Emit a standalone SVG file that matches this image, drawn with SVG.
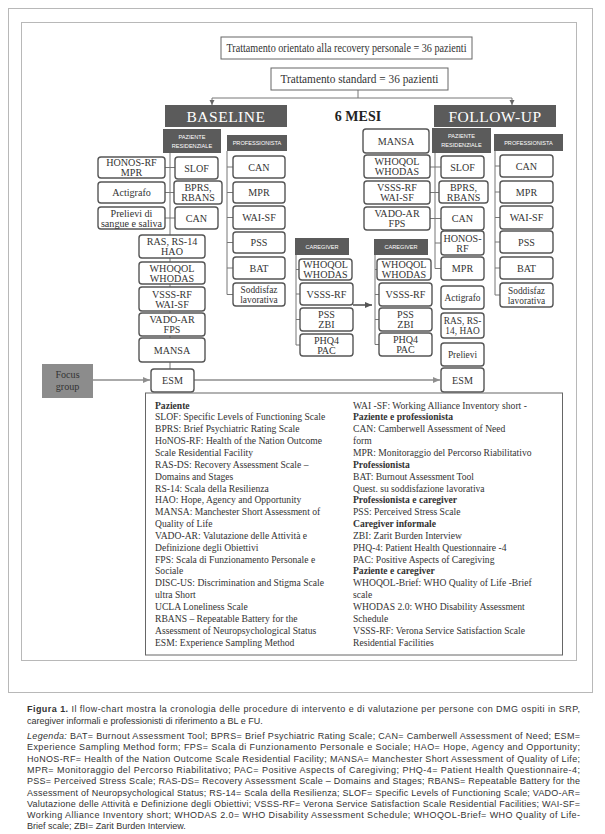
<svg xmlns="http://www.w3.org/2000/svg" width="605" height="834" viewBox="0 0 605 834">
<defs>
<marker id="ah" markerWidth="8" markerHeight="8" refX="7" refY="4" orient="auto" markerUnits="userSpaceOnUse"><path d="M0,1 L7,4 L0,7 z" fill="#8e8e8e"/></marker>
<marker id="ahd" markerWidth="8" markerHeight="8" refX="7" refY="4" orient="auto" markerUnits="userSpaceOnUse"><path d="M0,1 L7,4 L0,7 z" fill="#555"/></marker>
<marker id="ahs" markerWidth="6" markerHeight="6" refX="5" refY="3" orient="auto" markerUnits="userSpaceOnUse"><path d="M0,0.5 L5,3 L0,5.5 z" fill="#666"/></marker>
</defs>
<style>
.frame{fill:none;stroke:#b8b8b8;stroke-width:1}
.box{fill:#fff;stroke:#555;stroke-width:1.4}
.hdr{fill:#5b5b5b}
.bt{font-family:"Liberation Serif",serif;font-size:10.1px;fill:#333;text-anchor:middle}
.st{font-size:9.4px}
.ht{font-family:"Liberation Sans",sans-serif;font-size:5.6px;fill:#fff;text-anchor:middle}
.big{font-family:"Liberation Serif",serif;font-size:15.5px;fill:#fff;text-anchor:middle;letter-spacing:0.5px}
.ln{stroke:#777;stroke-width:1;fill:none}
.arr{stroke:#8e8e8e;stroke-width:1.6;fill:none}
.lg{font-family:"Liberation Serif",serif;font-size:9.6px;fill:#333}
.b{font-weight:bold}
.i{font-style:italic}
.cap{font-family:"Liberation Sans",sans-serif;font-size:9px;fill:#333}
.top{font-family:"Liberation Serif",serif;font-size:11.5px;fill:#333;text-anchor:middle}
</style>
<rect width="605" height="834" fill="#fff"/>
<rect class="frame" x="8.5" y="8.5" width="584" height="684"/>
<rect class="frame" x="21.5" y="22.5" width="555" height="638"/>

<g id="connectors">
<line class="ln" x1="358" y1="90" x2="358" y2="98"/>
<line class="ln" x1="212" y1="98" x2="512" y2="98"/>
<line class="ln" x1="212" y1="98" x2="212" y2="105" marker-end="url(#ahs)"/>
<line class="ln" x1="512" y1="98" x2="512" y2="105" marker-end="url(#ahs)"/>
<line class="ln" x1="170" y1="153" x2="170" y2="369"/>
<line class="ln" x1="165" y1="167.5" x2="175" y2="167.5"/>
<line class="ln" x1="165" y1="192.5" x2="175" y2="192.5"/>
<line class="ln" x1="165" y1="218" x2="175" y2="218"/>
<line class="ln" x1="227" y1="151" x2="227" y2="294.5"/>
<line class="ln" x1="227" y1="167" x2="233" y2="167"/>
<line class="ln" x1="227" y1="192.5" x2="233" y2="192.5"/>
<line class="ln" x1="227" y1="217.5" x2="233" y2="217.5"/>
<line class="ln" x1="227" y1="242.5" x2="233" y2="242.5"/>
<line class="ln" x1="227" y1="268" x2="233" y2="268"/>
<line class="ln" x1="227" y1="294.5" x2="233" y2="294.5"/>
<line class="ln" x1="296" y1="255" x2="296" y2="345"/>
<line class="ln" x1="296" y1="269.5" x2="299" y2="269.5"/>
<line class="ln" x1="296" y1="294" x2="300" y2="294"/>
<line class="ln" x1="296" y1="319.5" x2="300" y2="319.5"/>
<line class="ln" x1="296" y1="345" x2="300" y2="345"/>
<line class="ln" x1="375" y1="255" x2="375" y2="344.5"/>
<line class="ln" x1="375" y1="269.5" x2="377" y2="269.5"/>
<line class="ln" x1="375" y1="294.5" x2="379" y2="294.5"/>
<line class="ln" x1="375" y1="319.5" x2="379" y2="319.5"/>
<line class="ln" x1="375" y1="344.5" x2="379" y2="344.5"/>
<line class="ln" x1="435" y1="153" x2="435" y2="268.5"/>
<line class="ln" x1="430" y1="167" x2="441" y2="167"/>
<line class="ln" x1="430" y1="192.5" x2="439" y2="192.5"/>
<line class="ln" x1="430" y1="218.5" x2="441" y2="218.5"/>
<line class="ln" x1="435" y1="243" x2="441" y2="243"/>
<line class="ln" x1="435" y1="268.5" x2="441" y2="268.5"/>
<line class="ln" x1="495" y1="151" x2="495" y2="295"/>
<line class="ln" x1="495" y1="166" x2="500" y2="166"/>
<line class="ln" x1="495" y1="192" x2="500" y2="192"/>
<line class="ln" x1="495" y1="217.5" x2="500" y2="217.5"/>
<line class="ln" x1="495" y1="242" x2="500" y2="242"/>
<line class="ln" x1="495" y1="268" x2="500" y2="268"/>
<line class="ln" x1="495" y1="295" x2="500" y2="295"/>
<line x1="353" y1="305" x2="372" y2="305" stroke="#555" stroke-width="1.6" marker-end="url(#ahd)"/>
<line class="arr" x1="194" y1="380" x2="440" y2="380" marker-end="url(#ah)"/>
<line class="arr" x1="93" y1="380" x2="150" y2="380" marker-end="url(#ah)"/>
</g>

<g id="top-recovery"><rect x="221" y="37" width="251" height="22" fill="#fff" stroke="#666" stroke-width="1"/><text class="top" x="346.5" y="52" textLength="240" lengthAdjust="spacingAndGlyphs">Trattamento orientato alla recovery personale = 36 pazienti</text></g>
<g id="top-standard"><rect x="271" y="68" width="177" height="22" fill="#fff" stroke="#666" stroke-width="1"/><text class="top" x="359.5" y="83" textLength="158" lengthAdjust="spacingAndGlyphs">Trattamento standard = 36 pazienti</text></g>

<g id="baseline"><rect class="hdr" x="165" y="105" width="122" height="22"/><text class="big" x="226" y="122">BASELINE</text></g>
<g id="sei-mesi"><text x="358" y="121" font-family="Liberation Serif, serif" font-size="14" font-weight="bold" fill="#222" text-anchor="middle">6 MESI</text></g>
<g id="followup"><rect class="hdr" x="434" y="105" width="122" height="22"/><text class="big" x="495" y="122">FOLLOW-UP</text></g>

<g id="bl-paziente-hdr"><rect class="hdr" x="163" y="129" width="58" height="24"/><text class="ht" x="192" y="138.5">PAZIENTE</text><text class="ht" x="192" y="147.5">RESIDENZIALE</text></g>
<g id="bl-prof-hdr"><rect class="hdr" x="227" y="135" width="60" height="16"/><text class="ht" x="257" y="145">PROFESSIONISTA</text></g>
<g id="fu-paziente-hdr"><rect class="hdr" x="432" y="128" width="59" height="25"/><text class="ht" x="461.5" y="138">PAZIENTE</text><text class="ht" x="461.5" y="147">RESIDENZIALE</text></g>
<g id="fu-prof-hdr"><rect class="hdr" x="494" y="134" width="69" height="17"/><text class="ht" x="528.5" y="144.5">PROFESSIONISTA</text></g>
<g id="bl-care-hdr"><rect class="hdr" x="295" y="238" width="54" height="17"/><text class="ht" x="322" y="248.5">CAREGIVER</text></g>
<g id="fu-care-hdr"><rect class="hdr" x="374" y="239" width="54" height="16"/><text class="ht" x="401" y="249">CAREGIVER</text></g>

<g id="bl-honos"><rect class="box" x="98" y="157" width="67" height="21" rx="3"/><text class="bt" x="131.5" y="166">HONOS-RF</text><text class="bt" x="131.5" y="176">MPR</text></g>
<g id="bl-actigrafo"><rect class="box" x="98" y="182" width="67" height="21" rx="3"/><text class="bt" x="131.5" y="196">Actigrafo</text></g>
<g id="bl-prelievi"><rect class="box" x="98" y="207" width="67" height="22" rx="3"/><text class="bt" x="131.5" y="216.5">Prelievi di</text><text class="bt" x="131.5" y="226.5">sangue e saliva</text></g>
<g id="bl-slof"><rect class="box" x="175" y="157" width="43" height="22" rx="3"/><text class="bt" x="196.5" y="171.5">SLOF</text></g>
<g id="bl-bprs"><rect class="box" x="174" y="181" width="48" height="23" rx="3"/><text class="bt" x="198" y="191">BPRS,</text><text class="bt" x="198" y="201">RBANS</text></g>
<g id="bl-can"><rect class="box" x="175" y="207" width="43" height="22" rx="3"/><text class="bt" x="196.5" y="221.5">CAN</text></g>
<g id="bl-ras"><rect class="box" x="139" y="235" width="66" height="23" rx="3"/><text class="bt" x="172" y="245">RAS, RS-14</text><text class="bt" x="172" y="255">HAO</text></g>
<g id="bl-whoqol"><rect class="box" x="139" y="262" width="66" height="22" rx="3"/><text class="bt" x="172" y="271.5">WHOQOL</text><text class="bt" x="172" y="281.5">WHODAS</text></g>
<g id="bl-vsss"><rect class="box" x="139" y="287" width="66" height="24" rx="3"/><text class="bt" x="172" y="297.5">VSSS-RF</text><text class="bt" x="172" y="307.5">WAI-SF</text></g>
<g id="bl-vado"><rect class="box" x="139" y="313" width="66" height="23" rx="3"/><text class="bt" x="172" y="323">VADO-AR</text><text class="bt" x="172" y="333">FPS</text></g>
<g id="bl-mansa"><rect class="box" x="139" y="338" width="66" height="24" rx="3"/><text class="bt" x="172" y="353.5">MANSA</text></g>
<g id="bl-esm"><rect class="box" x="151" y="369" width="43" height="23" rx="3"/><text class="bt" x="172.5" y="384">ESM</text></g>

<g id="bl-p-can"><rect class="box" x="233" y="156" width="52" height="22" rx="3"/><text class="bt" x="259" y="170.5">CAN</text></g>
<g id="bl-p-mpr"><rect class="box" x="233" y="182" width="52" height="21" rx="3"/><text class="bt" x="259" y="196">MPR</text></g>
<g id="bl-p-wai"><rect class="box" x="233" y="206" width="52" height="23" rx="3"/><text class="bt" x="259" y="221">WAI-SF</text></g>
<g id="bl-p-pss"><rect class="box" x="233" y="232" width="52" height="21" rx="3"/><text class="bt" x="259" y="246">PSS</text></g>
<g id="bl-p-bat"><rect class="box" x="233" y="257" width="52" height="22" rx="3"/><text class="bt" x="259" y="271.5">BAT</text></g>
<g id="bl-p-sodd"><rect class="box" x="233" y="283" width="52" height="23" rx="3"/><text class="bt st" x="259" y="293">Soddisfaz</text><text class="bt st" x="259" y="303">lavorativa</text></g>

<g id="bl-c-whoqol"><rect class="box" x="299" y="259" width="53" height="21" rx="3"/><text class="bt" x="325.5" y="268">WHOQOL</text><text class="bt" x="325.5" y="278">WHODAS</text></g>
<g id="bl-c-vsss"><rect class="box" x="300" y="283" width="53" height="22" rx="3"/><text class="bt" x="326.5" y="297.5">VSSS-RF</text></g>
<g id="bl-c-pss"><rect class="box" x="300" y="308" width="53" height="23" rx="3"/><text class="bt" x="326.5" y="318">PSS</text><text class="bt" x="326.5" y="328">ZBI</text></g>
<g id="bl-c-phq"><rect class="box" x="300" y="334" width="53" height="22" rx="3"/><text class="bt" x="326.5" y="343.5">PHQ4</text><text class="bt" x="326.5" y="353.5">PAC</text></g>

<g id="fu-c-whoqol"><rect class="box" x="377" y="259" width="54" height="21" rx="3"/><text class="bt" x="404" y="268">WHOQOL</text><text class="bt" x="404" y="278">WHODAS</text></g>
<g id="fu-c-vsss"><rect class="box" x="379" y="283" width="53" height="23" rx="3"/><text class="bt" x="405.5" y="298">VSSS-RF</text></g>
<g id="fu-c-pss"><rect class="box" x="379" y="308" width="53" height="23" rx="3"/><text class="bt" x="405.5" y="318">PSS</text><text class="bt" x="405.5" y="328">ZBI</text></g>
<g id="fu-c-phq"><rect class="box" x="379" y="333" width="53" height="23" rx="3"/><text class="bt" x="405.5" y="343">PHQ4</text><text class="bt" x="405.5" y="353">PAC</text></g>

<g id="fu-mansa"><rect class="box" x="363" y="129" width="66" height="24" rx="3"/><text class="bt" x="396" y="144.5">MANSA</text></g>
<g id="fu-whoqol"><rect class="box" x="364" y="155" width="66" height="23" rx="3"/><text class="bt" x="397" y="165">WHOQOL</text><text class="bt" x="397" y="175">WHODAS</text></g>
<g id="fu-vsss"><rect class="box" x="364" y="181" width="66" height="23" rx="3"/><text class="bt" x="397" y="191">VSSS-RF</text><text class="bt" x="397" y="201">WAI-SF</text></g>
<g id="fu-vado"><rect class="box" x="364" y="207" width="66" height="23" rx="3"/><text class="bt" x="397" y="217">VADO-AR</text><text class="bt" x="397" y="227">FPS</text></g>

<g id="fu-slof"><rect class="box" x="441" y="156" width="43" height="22" rx="3"/><text class="bt" x="462.5" y="170.5">SLOF</text></g>
<g id="fu-bprs"><rect class="box" x="439" y="181" width="49" height="22" rx="3"/><text class="bt" x="463.5" y="190.5">BPRS,</text><text class="bt" x="463.5" y="200.5">RBANS</text></g>
<g id="fu-can"><rect class="box" x="441" y="207" width="43" height="23" rx="3"/><text class="bt" x="462.5" y="222">CAN</text></g>
<g id="fu-honos"><rect class="box" x="441" y="231" width="43" height="24" rx="3"/><text class="bt" x="462.5" y="241.5">HONOS-</text><text class="bt" x="462.5" y="251.5">RF</text></g>
<g id="fu-mpr"><rect class="box" x="441" y="257" width="43" height="23" rx="3"/><text class="bt" x="462.5" y="272">MPR</text></g>
<g id="fu-actigrafo"><rect class="box" x="441" y="286" width="43" height="23" rx="3"/><text class="bt st" x="462.5" y="301">Actigrafo</text></g>
<g id="fu-ras"><rect class="box" x="441" y="313" width="43" height="25" rx="3"/><text class="bt st" x="462.5" y="324">RAS, RS-</text><text class="bt st" x="462.5" y="334">14, HAO</text></g>
<g id="fu-prelievi"><rect class="box" x="441" y="343" width="43" height="23" rx="3"/><text class="bt st" x="462.5" y="358">Prelievi</text></g>
<g id="fu-esm"><rect class="box" x="441" y="368" width="43" height="24" rx="3"/><text class="bt" x="462.5" y="383.5">ESM</text></g>

<g id="fu-p-can"><rect class="box" x="500" y="155" width="53" height="22" rx="3"/><text class="bt" x="526.5" y="169.5">CAN</text></g>
<g id="fu-p-mpr"><rect class="box" x="500" y="181" width="53" height="22" rx="3"/><text class="bt" x="526.5" y="195.5">MPR</text></g>
<g id="fu-p-wai"><rect class="box" x="500" y="206" width="53" height="23" rx="3"/><text class="bt" x="526.5" y="221">WAI-SF</text></g>
<g id="fu-p-pss"><rect class="box" x="500" y="231" width="53" height="22" rx="3"/><text class="bt" x="526.5" y="245.5">PSS</text></g>
<g id="fu-p-bat"><rect class="box" x="500" y="257" width="53" height="22" rx="3"/><text class="bt" x="526.5" y="271.5">BAT</text></g>
<g id="fu-p-sodd"><rect class="box" x="500" y="283" width="53" height="24" rx="3"/><text class="bt st" x="526.5" y="293.5">Soddisfaz</text><text class="bt st" x="526.5" y="303.5">lavorativa</text></g>

<g id="focus-group"><rect x="42" y="364" width="51" height="34" fill="#8c8c8c"/><text class="bt" x="67.5" y="378" fill="#333">Focus</text><text class="bt" x="67.5" y="390" fill="#333">group</text></g>

<g id="legend">
<rect x="145.5" y="393" width="417" height="262" fill="#fff" stroke="#666" stroke-width="1"/>
<text class="lg b" x="155" y="408.5">Paziente</text>
<text class="lg" x="155" y="420.4">SLOF: Specific Levels of Functioning Scale</text>
<text class="lg" x="155" y="432.2">BPRS: Brief Psychiatric Rating Scale</text>
<text class="lg" x="155" y="444.1">HoNOS-RF: Health of the Nation Outcome</text>
<text class="lg" x="155" y="455.9">Scale Residential Facility</text>
<text class="lg" x="155" y="467.8">RAS-DS: Recovery Assessment Scale –</text>
<text class="lg" x="155" y="479.6">Domains and Stages</text>
<text class="lg" x="155" y="491.5">RS-14: Scala della Resilienza</text>
<text class="lg" x="155" y="503.3">HAO: Hope, Agency and Opportunity</text>
<text class="lg" x="155" y="515.2">MANSA: Manchester Short Assessment of</text>
<text class="lg" x="155" y="527">Quality of Life</text>
<text class="lg" x="155" y="538.9">VADO-AR: Valutazione delle Attività e</text>
<text class="lg" x="155" y="550.7">Definizione degli Obiettivi</text>
<text class="lg" x="155" y="562.6">FPS: Scala di Funzionamento Personale e</text>
<text class="lg" x="155" y="574.4">Sociale</text>
<text class="lg" x="155" y="586.3">DISC-US: Discrimination and Stigma Scale</text>
<text class="lg" x="155" y="598.1">ultra Short</text>
<text class="lg" x="155" y="610">UCLA Loneliness Scale</text>
<text class="lg" x="155" y="621.8">RBANS – Repeatable Battery for the</text>
<text class="lg" x="155" y="633.7">Assessment of Neuropsychological Status</text>
<text class="lg" x="155" y="645.5">ESM: Experience Sampling Method</text>
<text class="lg" x="353" y="408.5">WAI -SF: Working Alliance Inventory short -</text>
<text class="lg b" x="353" y="420.4">Paziente e professionista</text>
<text class="lg" x="353" y="432.2">CAN: Camberwell Assessment of Need</text>
<text class="lg" x="353" y="444.1">form</text>
<text class="lg" x="353" y="455.9">MPR: Monitoraggio del Percorso Riabilitativo</text>
<text class="lg b" x="353" y="467.8">Professionista</text>
<text class="lg" x="353" y="479.6">BAT: Burnout  Assessment Tool</text>
<text class="lg" x="353" y="491.5">Quest. su soddisfazione lavorativa</text>
<text class="lg b" x="353" y="503.3">Professionista e caregiver</text>
<text class="lg" x="353" y="515.2">PSS: Perceived Stress Scale</text>
<text class="lg b" x="353" y="527">Caregiver informale</text>
<text class="lg" x="353" y="538.9">ZBI: Zarit Burden Interview</text>
<text class="lg" x="353" y="550.7">PHQ-4: Patient Health Questionnaire -4</text>
<text class="lg" x="353" y="562.6">PAC: Positive  Aspects of Caregiving</text>
<text class="lg b" x="353" y="574.4">Paziente e caregiver</text>
<text class="lg" x="353" y="586.3">WHOQOL-Brief: WHO Quality of Life -Brief</text>
<text class="lg" x="353" y="598.1">scale</text>
<text class="lg" x="353" y="610">WHODAS 2.0: WHO Disability Assessment</text>
<text class="lg" x="353" y="621.8">Schedule</text>
<text class="lg" x="353" y="633.7">VSSS-RF: Verona Service  Satisfaction Scale</text>
<text class="lg" x="353" y="645.5">Residential Facilities</text>
</g>

<g id="caption">
<text class="cap" x="27" y="712" textLength="553" lengthAdjust="spacing"><tspan class="b">Figura 1.</tspan> Il flow-chart mostra la cronologia delle procedure di intervento e di valutazione per persone con DMG ospiti in SRP,</text>
<text class="cap" x="27" y="724">caregiver informali e professionisti di riferimento a BL e FU.</text>
<text class="cap" x="27" y="739" textLength="553" lengthAdjust="spacing"><tspan class="i">Legenda:</tspan> BAT= Burnout Assessment Tool; BPRS= Brief Psychiatric Rating Scale; CAN= Camberwell Assessment of Need; ESM=</text>
<text class="cap" x="27" y="750.3" textLength="553" lengthAdjust="spacing">Experience Sampling Method form; FPS= Scala di Funzionamento Personale e Sociale; HAO= Hope, Agency and Opportunity;</text>
<text class="cap" x="27" y="761.6" textLength="553" lengthAdjust="spacing">HoNOS-RF= Health of the Nation Outcome Scale Residential Facility; MANSA= Manchester Short Assessment of Quality of Life;</text>
<text class="cap" x="27" y="772.9" textLength="553" lengthAdjust="spacing">MPR= Monitoraggio del Percorso Riabilitativo; PAC= Positive Aspects of Caregiving; PHQ-4= Patient Health Questionnaire-4;</text>
<text class="cap" x="27" y="784.2" textLength="553" lengthAdjust="spacing">PSS= Perceived Stress Scale; RAS-DS= Recovery Assessment Scale – Domains and Stages; RBANS= Repeatable Battery for the</text>
<text class="cap" x="27" y="795.5" textLength="553" lengthAdjust="spacing">Assessment of Neuropsychological Status; RS-14= Scala della Resilienza; SLOF= Specific Levels of Functioning Scale; VADO-AR=</text>
<text class="cap" x="27" y="806.8" textLength="553" lengthAdjust="spacing">Valutazione delle Attività e Definizione degli Obiettivi; VSSS-RF= Verona Service Satisfaction Scale Residential Facilities; WAI-SF=</text>
<text class="cap" x="27" y="818.1" textLength="553" lengthAdjust="spacing">Working Alliance Inventory short; WHODAS 2.0= WHO Disability Assessment Schedule; WHOQOL-Brief= WHO Quality of Life-</text>
<text class="cap" x="27" y="829.4">Brief scale; ZBI= Zarit Burden Interview.</text>
</g>
</svg>
